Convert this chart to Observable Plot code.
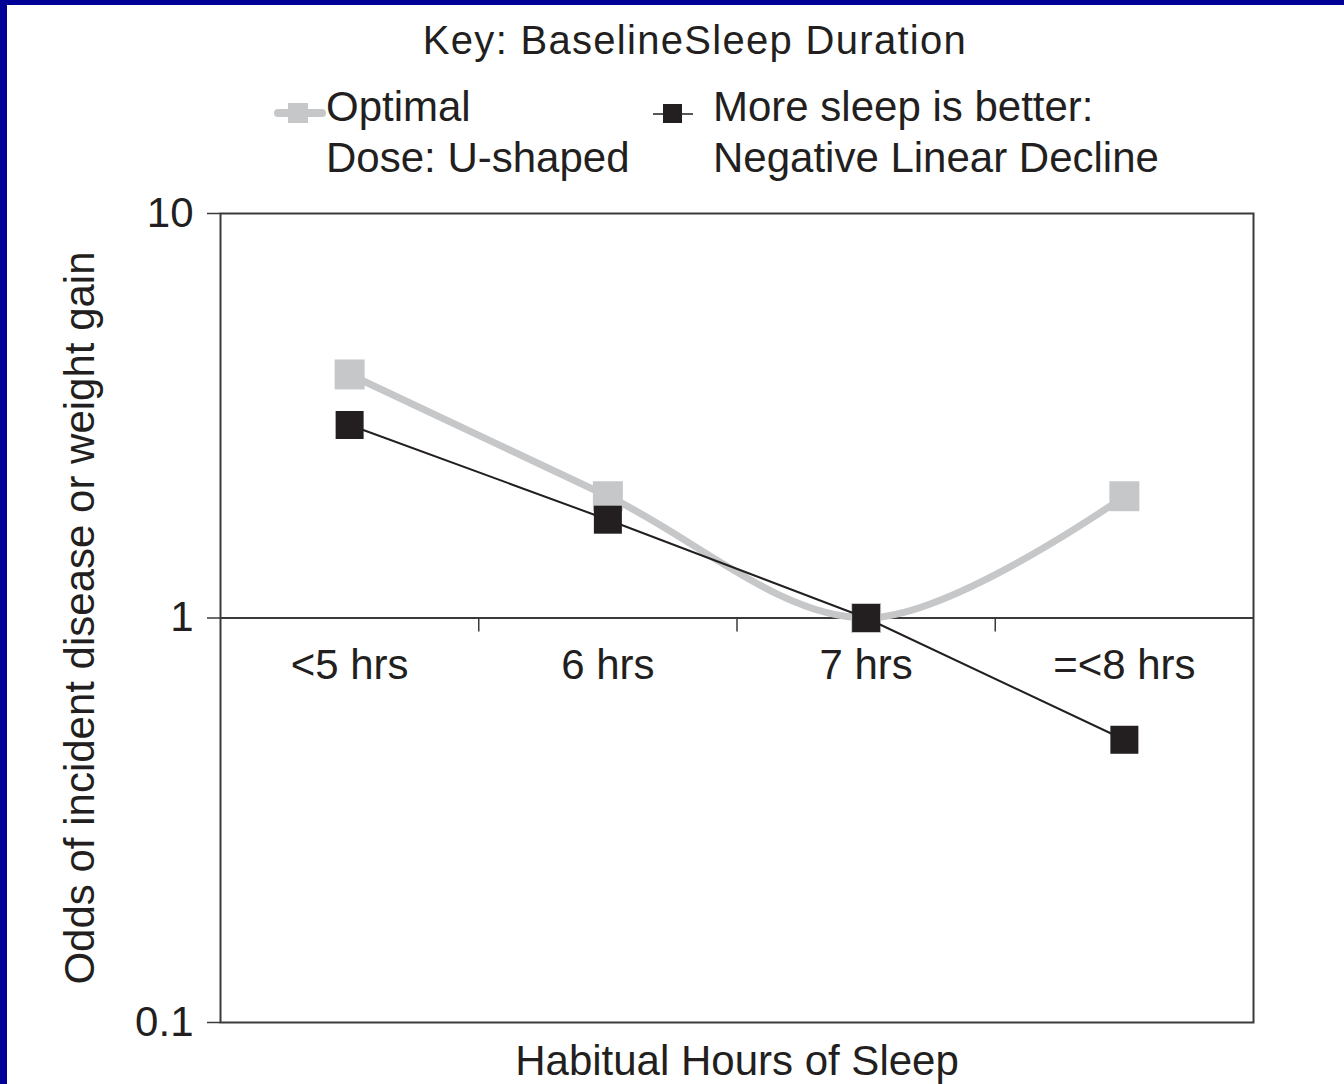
<!DOCTYPE html>
<html>
<head>
<meta charset="utf-8">
<script src="https://cdn.jsdelivr.net/npm/d3@7"></script>
<script src="https://cdn.jsdelivr.net/npm/@observablehq/plot@0.6"></script>
<style>
  html, body { margin: 0; padding: 0; background: #fff; }
  #page { position: relative; width: 1344px; height: 1084px; overflow: hidden; background: #fff;
          font-family: "Liberation Sans", Arial, sans-serif; color: #231f20; }
  .bar { position: absolute; background: #000096; z-index: 5; }
  .title { position: absolute; top: 20px; left: 695px; transform: translateX(-50%); white-space: nowrap;
           font-size: 40px; line-height: 40px; letter-spacing: 1.3px; }
  .leg { position: absolute; font-size: 42px; line-height: 51px; white-space: nowrap; }
  .sw { position: absolute; }
  #chart { position: absolute; left: 0; top: 190px; }
  #chart svg { overflow: visible; }
</style>
</head>
<body>
<div id="page">
  <div class="bar" style="left:0;top:0;width:1344px;height:5px"></div>
  <div class="bar" style="left:0;top:0;width:7px;height:1084px"></div>
  <div class="title">Key: BaselineSleep Duration</div>
  <svg class="sw" style="left:270px;top:98px" width="60" height="30">
    <line x1="8" x2="52" y1="15" y2="15" stroke="#c6c7c9" stroke-width="8" stroke-linecap="round"/>
    <rect x="18" y="5" width="20" height="20" fill="#c6c7c9"/>
  </svg>
  <div class="leg" id="legA" style="left:326px;top:81px">Optimal<br>Dose: U-shaped</div>
  <svg class="sw" style="left:650px;top:99px" width="46" height="30">
    <line x1="3" x2="43" y1="15" y2="15" stroke="#231f20" stroke-width="1.5"/>
    <rect x="13" y="5" width="19" height="19" fill="#231f20"/>
  </svg>
  <div class="leg" id="legB" style="left:713px;top:81px">More sleep is better:<br>Negative Linear Decline</div>
  <div id="chart"></div>
</div>
<script>
// ---- data ----
const categories = ["<5 hrs", "6 hrs", "7 hrs", "=<8 hrs"];
const optimalDose = [4, 2, 1, 2];          // Optimal Dose: U-shaped
const moreSleep = [3, 1.75, 1, 0.5];       // More sleep is better: Negative Linear Decline
const yTicks = [0.1, 1, 10];
const yTickLabels = ["0.1", "1", "10"];
const baseline = 1;
const xLabel = "Habitual Hours of Sleep";
const yLabel = "Odds of incident disease or weight gain";

// ---- derived tables ----
const grayRows = categories.map((c, i) => ({i, cat: c, v: optimalDose[i]}));
const blackRows = categories.map((c, i) => ({i, cat: c, v: moreSleep[i]}));
const catRows = categories.map((c, i) => ({i, cat: c}));
const boundaries = categories.slice(1).map((_, i) => i + 0.5);

const GRAY = "#c6c7c9";
const INK = "#231f20";
const AXIS = "#3a3a3a";

const chart = Plot.plot({
  width: 1344,
  height: 894,
  marginLeft: 220,
  marginRight: 91,
  marginTop: 23,
  marginBottom: 62,
  style: {fontFamily: "Liberation Sans, Arial, sans-serif", fontSize: "42px", color: INK, background: "transparent", overflow: "visible"},
  x: {type: "linear", domain: [-0.5, categories.length - 0.5], axis: null},
  y: {type: "log", domain: [yTicks[0], yTicks[yTicks.length - 1]], axis: null},
  marks: [
    Plot.axisY(yTicks, {
      anchor: "left", tickSize: 13, tickPadding: 14, stroke: AXIS, strokeWidth: 1.5,
      tickFormat: (d) => yTickLabels[yTicks.indexOf(d)], fontSize: 42, label: null, fill: INK
    }),
    Plot.frame({stroke: AXIS, strokeWidth: 2}),
    Plot.ruleY([baseline], {stroke: AXIS, strokeWidth: 2}),
    Plot.ruleX(boundaries, {x: (d) => d, y1: baseline, y2: baseline, insetBottom: -14, stroke: AXIS, strokeWidth: 1.5}),
    Plot.text(catRows, {x: "i", y: baseline, text: "cat", dy: 48, lineAnchor: "middle", fontSize: 42, fill: INK}),
    Plot.line(grayRows, {x: "i", y: "v", stroke: GRAY, strokeWidth: 7, curve: "catmull-rom"}),
    Plot.dot(grayRows, {x: "i", y: "v", symbol: "square", r: 16.9, fill: GRAY, stroke: "none"}),
    Plot.line(blackRows, {x: "i", y: "v", stroke: INK, strokeWidth: 2}),
    Plot.dot(blackRows, {x: "i", y: "v", symbol: "square", r: 15.8, fill: INK, stroke: "none"}),
    Plot.text([yLabel], {frameAnchor: "left", textAnchor: "middle", rotate: -90, dx: -140, lineAnchor: "middle", fontSize: 42, fill: INK}),
    Plot.text([xLabel], {frameAnchor: "bottom", dy: 39, lineAnchor: "middle", fontSize: 42, fill: INK})
  ]
});
document.getElementById("chart").appendChild(chart);
</script>
</body>
</html>
